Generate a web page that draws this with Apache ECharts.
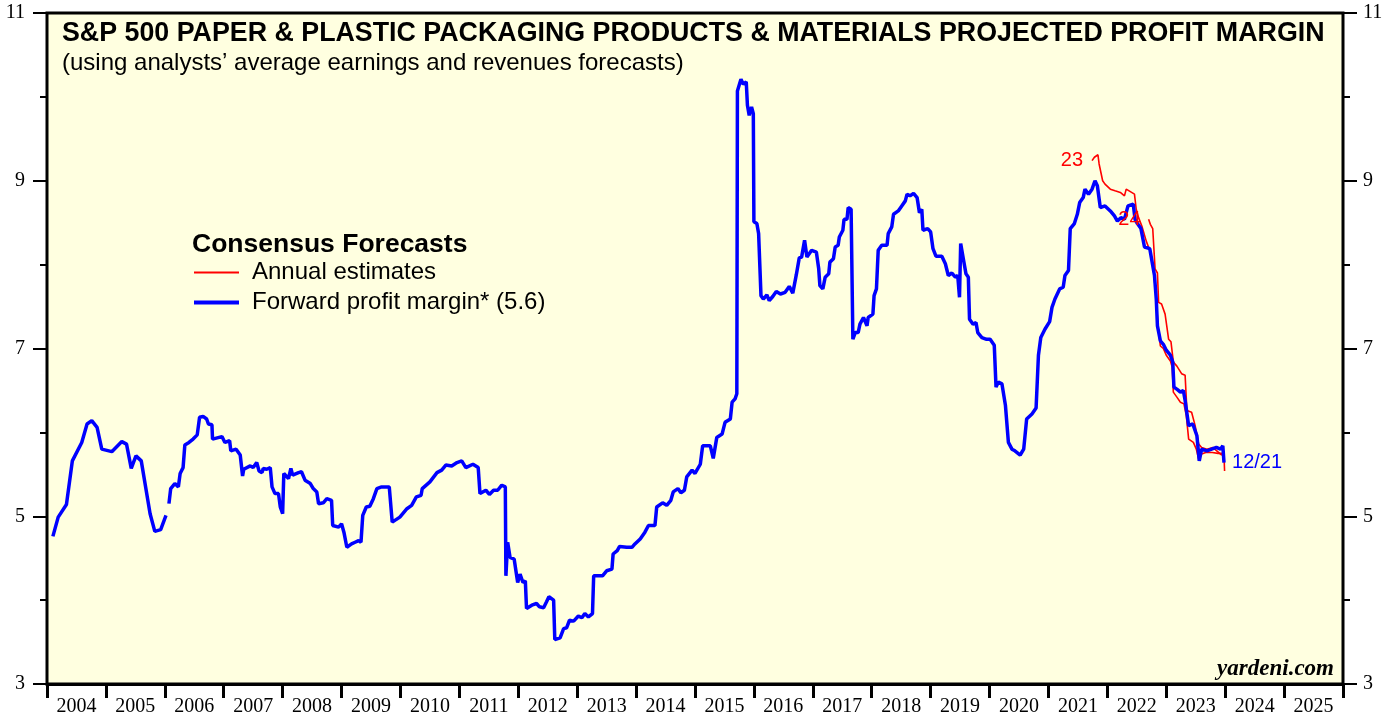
<!DOCTYPE html>
<html>
<head>
<meta charset="utf-8">
<script src="https://cdn.jsdelivr.net/npm/echarts@6/dist/echarts.min.js"></script>
<style>
html,body{margin:0;padding:0;background:#fff;}
#chart{width:1398px;height:717px;}
</style>
</head>
<body>
<div id="chart"></div>
<script>
// ---- data (decimal year, profit margin %) ----
var years = ['2004','2005','2006','2007','2008','2009','2010','2011','2012','2013','2014','2015','2016','2017','2018','2019','2020','2021','2022','2023','2024','2025'];

var forwardMargin = [
[2004.10,4.76],[2004.19,4.99],[2004.33,5.14],[2004.43,5.66],[2004.59,5.88],[2004.68,6.10],[2004.76,6.14],[2004.85,6.06],[2004.93,5.80],
[2005.10,5.77],[2005.27,5.89],[2005.35,5.86],[2005.43,5.57],[2005.51,5.72],[2005.60,5.66],[2005.75,5.03],[2005.83,4.82],[2005.93,4.84],[2006.02,5.01],
[2006.045,'-'],
[2006.07,5.15],[2006.10,5.33],[2006.17,5.39],[2006.23,5.35],[2006.26,5.51],[2006.31,5.58],[2006.34,5.85],[2006.41,5.88],[2006.48,5.92],[2006.55,5.97],
[2006.59,6.18],[2006.65,6.19],[2006.71,6.16],[2006.74,6.10],[2006.80,6.09],[2006.81,5.92],[2006.97,5.95],[2007.02,5.88],[2007.10,5.90],[2007.12,5.78],
[2007.21,5.80],[2007.28,5.73],[2007.32,5.48],[2007.34,5.56],[2007.45,5.60],[2007.50,5.58],[2007.56,5.64],[2007.60,5.54],[2007.65,5.52],[2007.67,5.57],
[2007.73,5.56],[2007.79,5.58],[2007.82,5.35],[2007.87,5.27],[2007.93,5.27],[2007.96,5.11],[2008.00,5.03],[2008.02,5.51],[2008.10,5.45],[2008.14,5.57],
[2008.17,5.49],[2008.27,5.52],[2008.32,5.53],[2008.38,5.43],[2008.47,5.39],[2008.52,5.33],[2008.58,5.29],[2008.61,5.15],[2008.69,5.16],[2008.75,5.21],
[2008.83,5.19],[2008.85,4.89],[2008.95,4.87],[2009.00,4.91],[2009.04,4.81],[2009.09,4.63],[2009.17,4.67],[2009.23,4.69],[2009.29,4.71],[2009.33,4.69],
[2009.36,5.01],[2009.42,5.11],[2009.48,5.12],[2009.54,5.21],[2009.60,5.33],[2009.68,5.35],[2009.81,5.35],[2009.86,4.93],[2009.99,4.99],[2010.11,5.09],
[2010.19,5.13],[2010.27,5.23],[2010.35,5.25],[2010.37,5.33],[2010.50,5.41],[2010.62,5.52],[2010.70,5.55],[2010.77,5.61],[2010.87,5.60],[2010.96,5.64],
[2011.04,5.66],[2011.11,5.58],[2011.23,5.62],[2011.32,5.58],[2011.35,5.27],[2011.45,5.31],[2011.51,5.26],[2011.58,5.31],[2011.65,5.31],[2011.72,5.37],
[2011.78,5.35],[2011.79,4.29],[2011.82,4.69],[2011.86,4.51],[2011.93,4.49],[2011.99,4.21],[2012.03,4.31],[2012.08,4.21],[2012.12,4.23],[2012.14,3.90],
[2012.23,3.94],[2012.31,3.96],[2012.36,3.92],[2012.43,3.91],[2012.48,3.98],[2012.52,4.04],[2012.60,4.00],[2012.62,3.53],[2012.71,3.55],[2012.77,3.66],
[2012.82,3.67],[2012.87,3.76],[2012.94,3.75],[2013.02,3.81],[2013.08,3.79],[2013.13,3.84],[2013.19,3.80],[2013.26,3.84],[2013.28,4.29],[2013.36,4.29],
[2013.43,4.29],[2013.50,4.35],[2013.59,4.37],[2013.61,4.55],[2013.68,4.59],[2013.72,4.64],[2013.84,4.63],[2013.93,4.63],[2013.98,4.67],[2014.07,4.73],
[2014.15,4.81],[2014.21,4.89],[2014.32,4.89],[2014.35,5.11],[2014.45,5.16],[2014.52,5.13],[2014.59,5.19],[2014.63,5.29],[2014.71,5.33],[2014.76,5.28],
[2014.82,5.31],[2014.86,5.47],[2014.95,5.55],[2015.00,5.51],[2015.09,5.62],[2015.13,5.84],[2015.26,5.84],[2015.31,5.69],[2015.37,5.94],[2015.46,5.98],
[2015.51,6.12],[2015.60,6.16],[2015.63,6.36],[2015.68,6.40],[2015.71,6.46],[2015.72,10.07],[2015.78,10.21],[2015.82,10.15],[2015.87,10.18],[2015.89,9.90],
[2015.92,9.78],[2015.96,9.88],[2015.99,9.80],[2016.00,8.51],[2016.05,8.49],[2016.08,8.37],[2016.12,7.63],[2016.16,7.59],[2016.22,7.64],[2016.26,7.57],
[2016.32,7.62],[2016.38,7.68],[2016.45,7.65],[2016.53,7.67],[2016.60,7.74],[2016.66,7.66],[2016.72,7.88],[2016.77,8.08],[2016.81,8.09],[2016.86,8.29],
[2016.90,8.09],[2016.98,8.17],[2017.06,8.15],[2017.10,7.95],[2017.12,7.75],[2017.17,7.71],[2017.21,7.85],[2017.27,7.89],[2017.29,8.03],[2017.35,8.07],
[2017.38,8.21],[2017.43,8.23],[2017.45,8.33],[2017.51,8.41],[2017.53,8.54],[2017.58,8.54],[2017.60,8.68],[2017.65,8.66],[2017.68,7.11],[2017.72,7.19],
[2017.77,7.19],[2017.80,7.29],[2017.86,7.37],[2017.92,7.27],[2017.94,7.37],[2018.02,7.41],[2018.04,7.63],[2018.08,7.71],[2018.11,8.17],[2018.17,8.23],
[2018.26,8.23],[2018.28,8.37],[2018.34,8.45],[2018.37,8.60],[2018.45,8.64],[2018.51,8.70],[2018.57,8.76],[2018.60,8.84],[2018.65,8.82],[2018.71,8.85],
[2018.77,8.80],[2018.81,8.62],[2018.85,8.66],[2018.87,8.41],[2018.95,8.43],[2019.00,8.39],[2019.04,8.19],[2019.09,8.10],[2019.19,8.10],[2019.25,8.01],
[2019.30,7.87],[2019.36,7.90],[2019.42,7.85],[2019.46,7.87],[2019.49,7.61],[2019.51,8.25],[2019.56,8.05],[2019.60,7.89],[2019.64,7.85],[2019.66,7.35],
[2019.72,7.29],[2019.77,7.31],[2019.80,7.19],[2019.87,7.13],[2019.95,7.11],[2020.01,7.11],[2020.08,7.04],[2020.11,6.54],[2020.15,6.60],[2020.21,6.58],
[2020.27,6.32],[2020.32,5.88],[2020.38,5.80],[2020.43,5.78],[2020.52,5.73],[2020.58,5.80],[2020.63,6.16],[2020.72,6.22],[2020.79,6.29],[2020.83,6.92],
[2020.87,7.13],[2020.94,7.23],[2021.02,7.32],[2021.06,7.49],[2021.11,7.59],[2021.19,7.71],[2021.25,7.73],[2021.28,7.87],[2021.34,7.93],[2021.37,8.43],
[2021.44,8.49],[2021.49,8.60],[2021.53,8.74],[2021.59,8.80],[2021.62,8.90],[2021.68,8.84],[2021.74,8.90],[2021.79,9.00],[2021.83,8.94],[2021.88,8.68],
[2021.96,8.70],[2022.05,8.64],[2022.12,8.58],[2022.17,8.52],[2022.23,8.56],[2022.29,8.54],[2022.35,8.70],[2022.44,8.72],[2022.47,8.54],[2022.51,8.49],
[2022.57,8.43],[2022.63,8.21],[2022.72,8.19],[2022.76,8.03],[2022.80,7.87],[2022.83,7.59],[2022.85,7.27],[2022.90,7.09],[2022.95,7.05],[2023.00,6.98],
[2023.07,6.92],[2023.11,6.84],[2023.13,6.54],[2023.19,6.51],[2023.24,6.48],[2023.29,6.50],[2023.32,6.38],[2023.38,6.08],[2023.45,6.10],[2023.52,5.96],
[2023.56,5.66],[2023.60,5.80],[2023.69,5.78],[2023.77,5.80],[2023.85,5.82],[2023.92,5.80],[2023.96,5.84],[2023.98,5.64]
];

var annual2023 = [
[2021.74,9.24],[2021.78,9.28],[2021.84,9.31],[2021.86,9.20],[2021.92,9.00],[2021.96,8.96],[2022.05,8.90],[2022.13,8.88],[2022.22,8.86],[2022.29,8.82],
[2022.32,8.90],[2022.39,8.87],[2022.46,8.84],[2022.49,8.66],[2022.53,8.56],[2022.59,8.45],[2022.66,8.28],[2022.73,8.15],[2022.78,7.95],[2022.83,7.60],
[2022.86,7.25],[2022.90,7.03],[2022.95,7.00],[2023.00,6.92],[2023.07,6.85],[2023.10,6.78],[2023.12,6.48],[2023.18,6.42],[2023.24,6.36],[2023.30,6.34],
[2023.34,6.20],[2023.38,5.92],[2023.46,5.88],[2023.51,5.80],[2023.55,5.68],[2023.59,5.74],[2023.67,5.76],[2023.78,5.76],[2023.88,5.75],[2023.95,5.75]
];

var annual2024 = [
[2022.70,8.54],[2022.73,8.48],[2022.77,8.43],[2022.81,7.95],[2022.85,7.90],[2022.87,7.55],[2022.92,7.53],[2022.98,7.41],[2023.04,7.11],[2023.08,7.08],
[2023.12,6.84],[2023.18,6.79],[2023.26,6.70],[2023.32,6.68],[2023.35,6.26],[2023.43,6.24],[2023.49,6.08],[2023.55,5.86],[2023.60,5.82],[2023.69,5.80],
[2023.79,5.82],[2023.92,5.74],[2023.98,5.72],[2023.99,5.54]
];

var SANS = 'Liberation Sans, Arial, sans-serif';
var SERIF = 'Liberation Serif, Times New Roman, serif';

var chart = echarts.init(document.getElementById('chart'));

function valueAxisY(pos, min, max, interval, tickLen, showLabel, margin) {
  return {
    type: 'value', position: pos, min: min, max: max, interval: interval,
    axisLine: {show: false},
    splitLine: {show: false},
    axisTick: {show: true, inside: false, length: tickLen, lineStyle: {color: '#000', width: 2}},
    axisLabel: {
      show: showLabel, margin: margin, color: '#000', fontFamily: SERIF, fontSize: 20,
      formatter: function (v) { return (v % 2 === 1) ? String(v) : ''; }
    }
  };
}

var option = {
  backgroundColor: '#ffffff',
  animation: false,
  title: [
    {text: 'S&P 500 PAPER & PLASTIC PACKAGING PRODUCTS & MATERIALS PROJECTED PROFIT MARGIN',
     left: 62, top: 20, padding: 0,
     textStyle: {fontFamily: SANS, fontWeight: 'bold', fontSize: 26.8, color: '#000', lineHeight: 28}},
    {text: '(using analysts\u2019 average earnings and revenues forecasts)',
     left: 62, top: 50, padding: 0,
     textStyle: {fontFamily: SANS, fontWeight: 'normal', fontSize: 24, color: '#000', lineHeight: 26}},
    {text: 'Consensus Forecasts',
     left: 192, top: 231, padding: 0,
     textStyle: {fontFamily: SANS, fontWeight: 'bold', fontSize: 26.5, color: '#000', lineHeight: 27}},
    {text: 'yardeni.com',
     right: 64, top: 657, padding: 0,
     textStyle: {fontFamily: SERIF, fontStyle: 'italic', fontWeight: 'bold', fontSize: 23, color: '#000', lineHeight: 24}}
  ],
  legend: {
    left: 192, top: 260, orient: 'vertical', padding: 0,
    itemWidth: 45, itemHeight: 14, itemGap: 5,
    itemStyle: {opacity: 0},
    data: [
      {name: 'Annual estimates', lineStyle: {color: '#ff0000', width: 1.8, opacity: 1}},
      {name: 'Forward profit margin* (5.6)', lineStyle: {color: '#0000ff', width: 4, opacity: 1}}
    ],
    textStyle: {fontFamily: SANS, fontSize: 24, color: '#000', lineHeight: 25, padding: [0, 0, 0, 8]}
  },
  grid: {
    left: 47, right: 55, top: 13, bottom: 32,
    show: true, backgroundColor: '#ffffe0', borderColor: '#000', borderWidth: 3
  },
  xAxis: [
    {type: 'value', min: 2004, max: 2026, interval: 1, position: 'bottom',
     axisLine: {show: true, lineStyle: {color: '#000', width: 3}},
     axisTick: {show: true, inside: false, length: 14, lineStyle: {color: '#000', width: 3}},
     axisLabel: {show: false}, splitLine: {show: false}},
    {type: 'category', data: years, position: 'bottom', boundaryGap: true,
     axisLine: {show: false}, axisTick: {show: false}, splitLine: {show: false},
     axisLabel: {show: true, interval: 0, margin: 13, color: '#000', fontFamily: SERIF, fontSize: 20}}
  ],
  yAxis: [
    valueAxisY('left', 3, 11, 1, 7, true, 22),
    valueAxisY('left', 4, 12, 2, 14, false, 22),
    valueAxisY('right', 3, 11, 1, 7, true, 20),
    valueAxisY('right', 4, 12, 2, 14, false, 20)
  ],
  series: [
    {name: 'Annual estimates', type: 'line', xAxisIndex: 0, yAxisIndex: 0, data: annual2023,
     symbol: 'none', showSymbol: false, lineStyle: {color: '#ff0000', width: 1.6}, itemStyle: {color: '#ff0000'},
     z: 3,
     markPoint: {symbol: 'circle', symbolSize: 0, silent: true,
       data: [{coord: annual2023[0], label: {show: true, position: 'left', distance: 9, formatter: '23',
         color: '#ff0000', fontFamily: SANS, fontSize: 20}}]}},
    {name: 'Annual estimates', type: 'line', xAxisIndex: 0, yAxisIndex: 0, data: annual2024,
     symbol: 'none', showSymbol: false, lineStyle: {color: '#ff0000', width: 1.6}, itemStyle: {color: '#ff0000'},
     z: 3,
     markPoint: {symbol: 'circle', symbolSize: 0, silent: true,
       data: [{coord: annual2024[0], label: {show: true, position: 'left', distance: 8, formatter: '24',
         color: '#ff0000', fontFamily: SANS, fontSize: 20}}]}},
    {name: 'Forward profit margin* (5.6)', type: 'line', xAxisIndex: 0, yAxisIndex: 0, data: forwardMargin,
     symbol: 'none', showSymbol: false, connectNulls: false,
     lineStyle: {color: '#0000ff', width: 3.5}, itemStyle: {color: '#0000ff'},
     z: 4,
     endLabel: {show: true, formatter: '12/21', distance: 8, color: '#0000ff', fontFamily: SANS, fontSize: 20}}
  ]
};
chart.setOption(option);
</script>
</body>
</html>
